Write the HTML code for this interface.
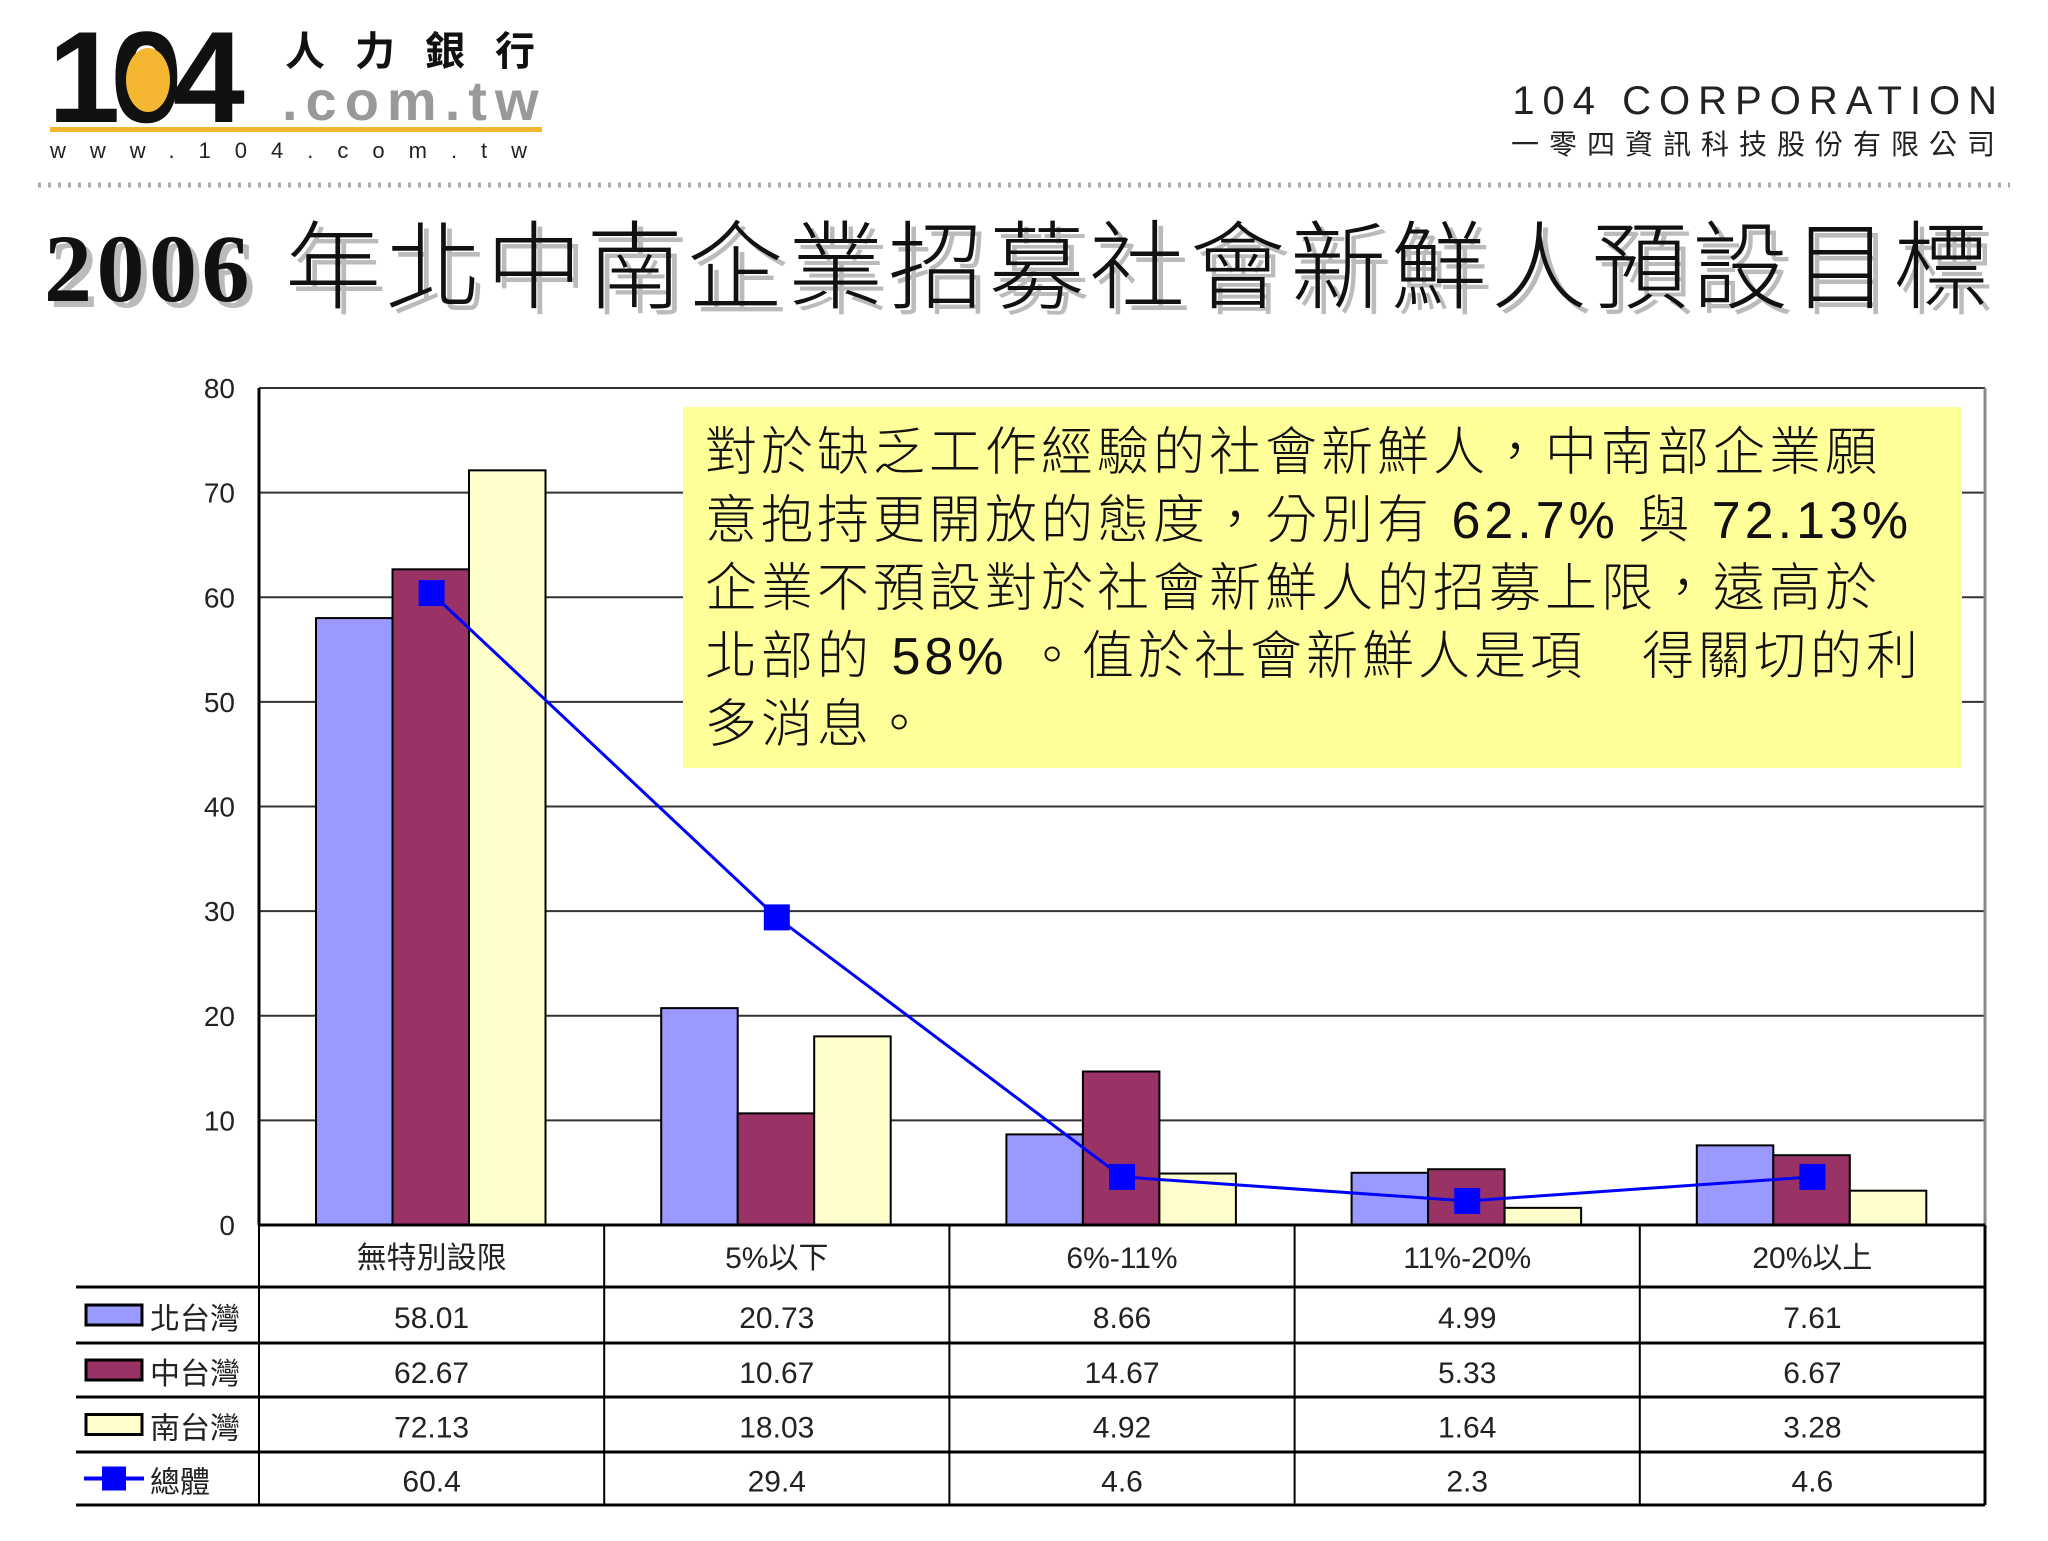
<!DOCTYPE html>
<html><head><meta charset="utf-8"><style>
body{margin:0;background:#fff;width:2048px;height:1536px;overflow:hidden}
svg text{font-family:"Liberation Sans","Noto Sans CJK TC",sans-serif}
</style></head><body>
<svg width="2048" height="1536" xmlns="http://www.w3.org/2000/svg" id="chart">
<g>
<text x="48" y="122" font-size="130" font-weight="bold" letter-spacing="-10" fill="#111">104</text>
<ellipse cx="148" cy="80" rx="22" ry="32" fill="#F5B731"/>
<text x="285" y="65" font-size="40" font-weight="bold" letter-spacing="30" fill="#111" font-family="Noto Sans CJK TC">人力銀行</text>
<text x="282" y="120" font-size="56" font-weight="bold" letter-spacing="8" fill="#999">.com.tw</text>
<rect x="50" y="127" width="492" height="5" fill="#F5B731"/>
<text x="50" y="158" font-size="22" letter-spacing="24" fill="#222">www.104.com.tw</text>
</g>
<text x="2005" y="114" text-anchor="end" font-size="40" letter-spacing="8" fill="#222">104  CORPORATION</text>
<text x="2005" y="154" text-anchor="end" font-size="28" letter-spacing="10" fill="#222" font-family="Noto Sans CJK TC">一零四資訊科技股份有限公司</text>
<line x1="38" y1="185" x2="2010" y2="185" stroke="#aaa" stroke-width="5" stroke-dasharray="3,7"/>
<text x="50" y="307" font-size="96" fill="#bbb" letter-spacing="4.5"><tspan font-family="Liberation Serif,serif" font-weight="bold">2006</tspan><tspan font-weight="300"> 年北中南企業招募社會新鮮人預設目標</tspan></text>
<text x="44" y="301" font-size="96" fill="#111" letter-spacing="4.5"><tspan font-family="Liberation Serif,serif" font-weight="bold">2006</tspan><tspan font-weight="300"> 年北中南企業招募社會新鮮人預設目標</tspan></text>
<g id="plot"></g>
<g>
<rect x="683" y="407" width="1279" height="361" fill="#FFFF99"/>
<g font-size="52" fill="#111" font-family="Noto Sans CJK TC" font-weight="300" letter-spacing="4">
<text x="705" y="470">對於缺乏工作經驗的社會新鮮人，中南部企業願</text>
<text x="705" y="538">意抱持更開放的態度，分別有 62.7% 與 72.13%</text>
<text x="705" y="606">企業不預設對於社會新鮮人的招募上限，遠高於</text>
<text x="705" y="674">北部的 58% 。值於社會新鮮人是項　得關切的利</text>
<text x="705" y="742">多消息。</text>
</g></g>
<g id="table"></g>
</svg>
<script>
const categories=["無特別設限","5%以下","6%-11%","11%-20%","20%以上"];
const north=[58.01,20.73,8.66,4.99,7.61];
const central=[62.67,10.67,14.67,5.33,6.67];
const south=[72.13,18.03,4.92,1.64,3.28];
const total=[60.4,29.4,4.6,2.3,4.6];
const yTicks=[0,10,20,30,40,50,60,70,80];
const seriesNames=["北台灣","中台灣","南台灣","總體"];
const NS="http://www.w3.org/2000/svg";
const L=259,R=1985,T=388,B=1225,cw=(R-L)/categories.length;
const y=v=>B-(v/80)*(B-T);
const xc=i=>L+cw*(i+0.5);
function mk(p,tag,attrs){const e=document.createElementNS(NS,tag);for(const k in attrs)e.setAttribute(k,attrs[k]);p.appendChild(e);return e;}
const plot=document.getElementById('plot');
yTicks.forEach(t=>{
 const l=mk(plot,'line',{x1:L,x2:R,y1:y(t),y2:y(t),stroke:t==0?'#000':'#333','stroke-width':t==0?3:2});
 
 
 const tx=mk(plot,'text',{x:235,y:y(t)+10,'text-anchor':'end','font-size':28,fill:'#222'});tx.textContent=t;
 
 
});
mk(plot,'line',{x1:L,x2:L,y1:T,y2:B,stroke:'#000','stroke-width':3});
mk(plot,'line',{x1:R,x2:R,y1:T,y2:B,stroke:'#888','stroke-width':3});
const bw=76.5,cols=['#9999FF','#993366','#FFFFCC'],data=[north,central,south];
categories.forEach((c,i)=>{
 data.forEach((s,j)=>{
  const x=L+cw*i+57+j*bw;
  const r=mk(plot,'rect',{x:x,y:y(s[i]),width:bw,height:B-y(s[i]),fill:cols[j],stroke:'#000','stroke-width':2});
  
  
 });
});
const pl=mk(plot,'polyline',{points:total.map((v,i)=>xc(i)+','+y(v)).join(' '),fill:'none',stroke:'#0000FF','stroke-width':3});


total.forEach((v,i)=>{const m=mk(plot,'rect',{x:xc(i)-13,y:y(v)-13,width:26,height:26,fill:'#0000FF'});
 
 });
const tb=document.getElementById('table');
const rows=[1225,1287,1343,1397,1452,1505];
mk(tb,'line',{x1:R,x2:R,y1:1225,y2:1505,stroke:'#000','stroke-width':3});
rows.forEach((ry,k)=>{mk(tb,'line',{x1:k==0?L:76,x2:R,y1:ry,y2:ry,stroke:'#000','stroke-width':3});});
for(let i=0;i<=categories.length;i++)mk(tb,'line',{x1:L+cw*i,x2:L+cw*i,y1:1225,y2:1505,stroke:'#000','stroke-width':2});
categories.forEach((c,i)=>{const t=mk(tb,'text',{x:xc(i),y:1268,'text-anchor':'middle','font-size':30,fill:'#222'});t.textContent=c;
 
 });
const all=[north,central,south,total];
all.forEach((s,j)=>{
 const cy=(rows[j+1]+rows[j+2])/2;
 if(j<3){mk(tb,'rect',{x:86,y:cy-10,width:56,height:20,fill:cols[j],stroke:'#000','stroke-width':3});}
 else{mk(tb,'line',{x1:84,x2:144,y1:cy,y2:cy,stroke:'#0000FF','stroke-width':4});mk(tb,'rect',{x:102,y:cy-12,width:24,height:24,fill:'#0000FF'});}
 const ln=mk(tb,'text',{x:150,y:cy+14,'font-size':30,fill:'#222'});ln.textContent=seriesNames[j];
 
 
 s.forEach((v,i)=>{const t=mk(tb,'text',{x:xc(i),y:cy+13,'text-anchor':'middle','font-size':30,fill:'#222'});t.textContent=v;
  
  });
});
</script>
</body></html>
